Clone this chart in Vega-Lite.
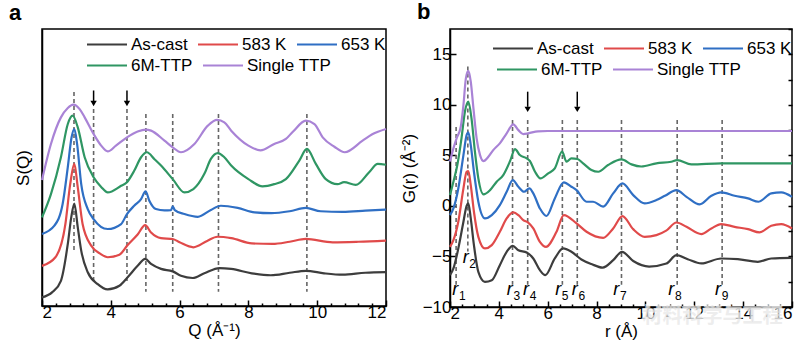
{
  "$schema": "https://vega.github.io/schema/vega-lite/v6.json",
  "padding": {"left": 8, "top": 0, "right": 10, "bottom": 0},
  "spacing": 7,
  "config": {
    "font": "Liberation Sans",
    "view": {"stroke": "black", "strokeWidth": 1.5},
    "axis": {"grid": false, "domainColor": "black", "domainWidth": 1.5, "tickColor": "black", "tickWidth": 1.5, "labelFontSize": 17, "labelColor": "black", "titleFontSize": 17, "titleFontWeight": "normal", "titleColor": "black", "labelFont": "Liberation Sans", "titleFont": "Liberation Sans"},
    "legend": {"orient": "none", "direction": "horizontal", "symbolType": "stroke", "symbolSize": 1600, "symbolStrokeWidth": 2, "clipHeight": 17, "labelFontSize": 17, "labelColor": "black", "labelOffset": 3, "columnPadding": 9, "title": null},
    "title": {"fontSize": 22, "fontWeight": "bold", "anchor": "start", "frame": "group", "dx": -33, "offset": 0, "color": "black"}
  },
  "resolve": {"scale": {"color": "independent", "stroke": "independent"}, "legend": {"color": "independent", "stroke": "independent"}},
  "datasets": {
    "sq": [
      {"c":"As-cast","Q":2.00,"S":0.31},{"c":"As-cast","Q":2.30,"S":0.50},{"c":"As-cast","Q":2.55,"S":0.91},{"c":"As-cast","Q":2.75,"S":2.24},{"c":"As-cast","Q":2.85,"S":3.20},{"c":"As-cast","Q":2.94,"S":3.70},{"c":"As-cast","Q":3.04,"S":2.84},{"c":"As-cast","Q":3.14,"S":2.00},{"c":"As-cast","Q":3.33,"S":1.22},{"c":"As-cast","Q":3.62,"S":0.79},{"c":"As-cast","Q":3.91,"S":0.60},{"c":"As-cast","Q":4.25,"S":0.73},{"c":"As-cast","Q":4.49,"S":1.04},{"c":"As-cast","Q":4.78,"S":1.45},{"c":"As-cast","Q":5.00,"S":1.70},{"c":"As-cast","Q":5.17,"S":1.52},{"c":"As-cast","Q":5.46,"S":1.34},{"c":"As-cast","Q":5.80,"S":1.25},{"c":"As-cast","Q":6.04,"S":1.09},{"c":"As-cast","Q":6.38,"S":1.01},{"c":"As-cast","Q":6.72,"S":1.18},{"c":"As-cast","Q":7.16,"S":1.37},{"c":"As-cast","Q":7.50,"S":1.34},{"c":"As-cast","Q":8.10,"S":1.18},{"c":"As-cast","Q":8.65,"S":1.11},{"c":"As-cast","Q":9.20,"S":1.20},{"c":"As-cast","Q":9.67,"S":1.27},{"c":"As-cast","Q":10.20,"S":1.18},{"c":"As-cast","Q":10.74,"S":1.13},{"c":"As-cast","Q":11.40,"S":1.20},{"c":"As-cast","Q":12.00,"S":1.22},
      {"c":"583 K","Q":2.00,"S":1.45},{"c":"583 K","Q":2.39,"S":1.76},{"c":"583 K","Q":2.68,"S":2.96},{"c":"583 K","Q":2.82,"S":4.40},{"c":"583 K","Q":2.94,"S":5.13},{"c":"583 K","Q":3.04,"S":4.28},{"c":"583 K","Q":3.18,"S":2.96},{"c":"583 K","Q":3.43,"S":2.18},{"c":"583 K","Q":3.70,"S":1.88},{"c":"583 K","Q":3.91,"S":1.76},{"c":"583 K","Q":4.25,"S":1.85},{"c":"583 K","Q":4.49,"S":2.20},{"c":"583 K","Q":4.78,"S":2.58},{"c":"583 K","Q":5.00,"S":2.92},{"c":"583 K","Q":5.17,"S":2.65},{"c":"583 K","Q":5.46,"S":2.45},{"c":"583 K","Q":5.80,"S":2.42},{"c":"583 K","Q":6.00,"S":2.30},{"c":"583 K","Q":6.40,"S":2.12},{"c":"583 K","Q":6.80,"S":2.35},{"c":"583 K","Q":7.10,"S":2.50},{"c":"583 K","Q":7.50,"S":2.45},{"c":"583 K","Q":8.10,"S":2.26},{"c":"583 K","Q":8.70,"S":2.24},{"c":"583 K","Q":9.20,"S":2.32},{"c":"583 K","Q":9.67,"S":2.42},{"c":"583 K","Q":10.45,"S":2.30},{"c":"583 K","Q":11.20,"S":2.32},{"c":"583 K","Q":12.00,"S":2.36},
      {"c":"653 K","Q":2.00,"S":2.60},{"c":"653 K","Q":2.36,"S":2.90},{"c":"653 K","Q":2.60,"S":3.68},{"c":"653 K","Q":2.75,"S":5.01},{"c":"653 K","Q":2.86,"S":6.09},{"c":"653 K","Q":2.94,"S":6.39},{"c":"653 K","Q":3.02,"S":5.85},{"c":"653 K","Q":3.14,"S":4.40},{"c":"653 K","Q":3.33,"S":3.50},{"c":"653 K","Q":3.50,"S":3.14},{"c":"653 K","Q":3.91,"S":2.78},{"c":"653 K","Q":4.30,"S":2.96},{"c":"653 K","Q":4.47,"S":3.32},{"c":"653 K","Q":4.68,"S":3.62},{"c":"653 K","Q":4.88,"S":3.86},{"c":"653 K","Q":5.01,"S":4.14},{"c":"653 K","Q":5.12,"S":3.80},{"c":"653 K","Q":5.31,"S":3.50},{"c":"653 K","Q":5.56,"S":3.45},{"c":"653 K","Q":5.75,"S":3.46},{"c":"653 K","Q":5.80,"S":3.60},{"c":"653 K","Q":5.86,"S":3.46},{"c":"653 K","Q":6.14,"S":3.32},{"c":"653 K","Q":6.53,"S":3.22},{"c":"653 K","Q":6.91,"S":3.47},{"c":"653 K","Q":7.20,"S":3.62},{"c":"653 K","Q":7.69,"S":3.54},{"c":"653 K","Q":8.18,"S":3.38},{"c":"653 K","Q":8.67,"S":3.35},{"c":"653 K","Q":9.20,"S":3.42},{"c":"653 K","Q":9.67,"S":3.54},{"c":"653 K","Q":10.10,"S":3.42},{"c":"653 K","Q":10.74,"S":3.40},{"c":"653 K","Q":11.40,"S":3.44},{"c":"653 K","Q":12.00,"S":3.48},
      {"c":"6M-TTP","Q":2.00,"S":3.20},{"c":"6M-TTP","Q":2.26,"S":4.04},{"c":"6M-TTP","Q":2.55,"S":5.37},{"c":"6M-TTP","Q":2.75,"S":6.57},{"c":"6M-TTP","Q":2.89,"S":6.87},{"c":"6M-TTP","Q":3.04,"S":6.45},{"c":"6M-TTP","Q":3.24,"S":5.37},{"c":"6M-TTP","Q":3.50,"S":4.65},{"c":"6M-TTP","Q":3.72,"S":4.30},{"c":"6M-TTP","Q":3.91,"S":4.10},{"c":"6M-TTP","Q":4.30,"S":4.34},{"c":"6M-TTP","Q":4.47,"S":4.47},{"c":"6M-TTP","Q":4.68,"S":4.88},{"c":"6M-TTP","Q":4.88,"S":5.37},{"c":"6M-TTP","Q":5.05,"S":5.55},{"c":"6M-TTP","Q":5.27,"S":5.30},{"c":"6M-TTP","Q":5.46,"S":5.07},{"c":"6M-TTP","Q":5.80,"S":4.58},{"c":"6M-TTP","Q":6.14,"S":4.10},{"c":"6M-TTP","Q":6.40,"S":4.22},{"c":"6M-TTP","Q":6.72,"S":4.77},{"c":"6M-TTP","Q":6.91,"S":5.31},{"c":"6M-TTP","Q":7.11,"S":5.52},{"c":"6M-TTP","Q":7.30,"S":5.37},{"c":"6M-TTP","Q":7.50,"S":5.07},{"c":"6M-TTP","Q":8.00,"S":4.58},{"c":"6M-TTP","Q":8.41,"S":4.32},{"c":"6M-TTP","Q":8.75,"S":4.40},{"c":"6M-TTP","Q":9.09,"S":4.58},{"c":"6M-TTP","Q":9.48,"S":5.25},{"c":"6M-TTP","Q":9.70,"S":5.67},{"c":"6M-TTP","Q":9.96,"S":5.13},{"c":"6M-TTP","Q":10.25,"S":4.58},{"c":"6M-TTP","Q":10.59,"S":4.40},{"c":"6M-TTP","Q":10.78,"S":4.47},{"c":"6M-TTP","Q":11.12,"S":4.37},{"c":"6M-TTP","Q":11.51,"S":4.83},{"c":"6M-TTP","Q":11.76,"S":5.13},{"c":"6M-TTP","Q":12.00,"S":5.10},
      {"c":"Single TTP","Q":2.00,"S":4.55},{"c":"Single TTP","Q":2.26,"S":5.85},{"c":"Single TTP","Q":2.55,"S":6.81},{"c":"Single TTP","Q":2.75,"S":7.15},{"c":"Single TTP","Q":2.91,"S":7.27},{"c":"Single TTP","Q":3.10,"S":7.10},{"c":"Single TTP","Q":3.24,"S":6.81},{"c":"Single TTP","Q":3.50,"S":6.21},{"c":"Single TTP","Q":3.72,"S":5.79},{"c":"Single TTP","Q":3.91,"S":5.58},{"c":"Single TTP","Q":4.15,"S":5.79},{"c":"Single TTP","Q":4.47,"S":6.09},{"c":"Single TTP","Q":4.78,"S":6.30},{"c":"Single TTP","Q":5.02,"S":6.37},{"c":"Single TTP","Q":5.17,"S":6.33},{"c":"Single TTP","Q":5.56,"S":5.97},{"c":"Single TTP","Q":5.80,"S":5.73},{"c":"Single TTP","Q":6.04,"S":5.55},{"c":"Single TTP","Q":6.43,"S":5.85},{"c":"Single TTP","Q":6.82,"S":6.51},{"c":"Single TTP","Q":7.09,"S":6.72},{"c":"Single TTP","Q":7.30,"S":6.63},{"c":"Single TTP","Q":7.50,"S":6.33},{"c":"Single TTP","Q":8.00,"S":5.79},{"c":"Single TTP","Q":8.35,"S":5.62},{"c":"Single TTP","Q":8.75,"S":5.85},{"c":"Single TTP","Q":9.09,"S":6.03},{"c":"Single TTP","Q":9.30,"S":6.30},{"c":"Single TTP","Q":9.67,"S":6.69},{"c":"Single TTP","Q":9.92,"S":6.57},{"c":"Single TTP","Q":10.16,"S":6.09},{"c":"Single TTP","Q":10.50,"S":5.75},{"c":"Single TTP","Q":10.80,"S":5.55},{"c":"Single TTP","Q":11.32,"S":5.97},{"c":"Single TTP","Q":11.60,"S":6.20},{"c":"Single TTP","Q":12.00,"S":6.39}
    ],
    "gr": [
      {"c":"As-cast","r":2.00,"G":-6.85},{"c":"As-cast","r":2.14,"G":-6.19},{"c":"As-cast","r":2.34,"G":-4.21},{"c":"As-cast","r":2.55,"G":-1.57},{"c":"As-cast","r":2.68,"G":0.01},{"c":"As-cast","r":2.75,"G":0.25},{"c":"As-cast","r":2.85,"G":-1.24},{"c":"As-cast","r":2.98,"G":-3.88},{"c":"As-cast","r":3.16,"G":-6.52},{"c":"As-cast","r":3.43,"G":-7.51},{"c":"As-cast","r":3.71,"G":-7.35},{"c":"As-cast","r":4.04,"G":-5.86},{"c":"As-cast","r":4.32,"G":-4.54},{"c":"As-cast","r":4.57,"G":-3.95},{"c":"As-cast","r":4.80,"G":-4.38},{"c":"As-cast","r":5.14,"G":-4.60},{"c":"As-cast","r":5.41,"G":-5.20},{"c":"As-cast","r":5.68,"G":-6.36},{"c":"As-cast","r":5.90,"G":-6.85},{"c":"As-cast","r":6.29,"G":-5.20},{"c":"As-cast","r":6.63,"G":-4.21},{"c":"As-cast","r":6.97,"G":-4.54},{"c":"As-cast","r":7.38,"G":-5.30},{"c":"As-cast","r":7.79,"G":-5.75},{"c":"As-cast","r":8.25,"G":-6.10},{"c":"As-cast","r":8.68,"G":-5.37},{"c":"As-cast","r":9.04,"G":-4.54},{"c":"As-cast","r":9.50,"G":-5.45},{"c":"As-cast","r":10.15,"G":-6.00},{"c":"As-cast","r":10.86,"G":-5.70},{"c":"As-cast","r":11.27,"G":-4.87},{"c":"As-cast","r":11.73,"G":-5.27},{"c":"As-cast","r":12.29,"G":-5.69},{"c":"As-cast","r":13.10,"G":-5.20},{"c":"As-cast","r":13.78,"G":-5.27},{"c":"As-cast","r":14.60,"G":-5.53},{"c":"As-cast","r":15.15,"G":-5.20},{"c":"As-cast","r":16.00,"G":-5.14},
      {"c":"583 K","r":2.00,"G":-4.05},{"c":"583 K","r":2.14,"G":-3.39},{"c":"583 K","r":2.34,"G":-1.57},{"c":"583 K","r":2.55,"G":1.73},{"c":"583 K","r":2.68,"G":3.38},{"c":"583 K","r":2.75,"G":3.45},{"c":"583 K","r":2.85,"G":2.06},{"c":"583 K","r":2.98,"G":-0.58},{"c":"583 K","r":3.16,"G":-3.06},{"c":"583 K","r":3.43,"G":-4.21},{"c":"583 K","r":3.71,"G":-3.88},{"c":"583 K","r":4.04,"G":-2.56},{"c":"583 K","r":4.32,"G":-1.24},{"c":"583 K","r":4.59,"G":-0.64},{"c":"583 K","r":4.80,"G":-0.91},{"c":"583 K","r":5.00,"G":-1.41},{"c":"583 K","r":5.20,"G":-1.65},{"c":"583 K","r":5.41,"G":-2.23},{"c":"583 K","r":5.68,"G":-3.55},{"c":"583 K","r":5.93,"G":-4.05},{"c":"583 K","r":6.36,"G":-2.56},{"c":"583 K","r":6.66,"G":-0.91},{"c":"583 K","r":7.18,"G":-1.73},{"c":"583 K","r":7.59,"G":-2.56},{"c":"583 K","r":8.27,"G":-3.16},{"c":"583 K","r":8.68,"G":-2.23},{"c":"583 K","r":9.06,"G":-1.01},{"c":"583 K","r":9.50,"G":-2.30},{"c":"583 K","r":9.97,"G":-3.06},{"c":"583 K","r":10.45,"G":-2.89},{"c":"583 K","r":10.85,"G":-2.45},{"c":"583 K","r":11.27,"G":-1.64},{"c":"583 K","r":11.68,"G":-2.07},{"c":"583 K","r":12.29,"G":-2.79},{"c":"583 K","r":12.70,"G":-2.23},{"c":"583 K","r":13.10,"G":-1.80},{"c":"583 K","r":13.65,"G":-2.07},{"c":"583 K","r":14.20,"G":-2.30},{"c":"583 K","r":14.67,"G":-2.62},{"c":"583 K","r":15.15,"G":-1.97},{"c":"583 K","r":15.56,"G":-1.80},{"c":"583 K","r":16.00,"G":-2.23},
      {"c":"653 K","r":2.00,"G":-0.91},{"c":"653 K","r":2.14,"G":-0.25},{"c":"653 K","r":2.34,"G":1.73},{"c":"653 K","r":2.55,"G":5.03},{"c":"653 K","r":2.68,"G":7.01},{"c":"653 K","r":2.75,"G":7.28},{"c":"653 K","r":2.85,"G":6.02},{"c":"653 K","r":2.98,"G":3.38},{"c":"653 K","r":3.16,"G":0.41},{"c":"653 K","r":3.43,"G":-1.24},{"c":"653 K","r":3.71,"G":-0.91},{"c":"653 K","r":4.04,"G":0.08},{"c":"653 K","r":4.32,"G":1.40},{"c":"653 K","r":4.57,"G":2.55},{"c":"653 K","r":4.80,"G":1.89},{"c":"653 K","r":5.03,"G":1.40},{"c":"653 K","r":5.25,"G":1.73},{"c":"653 K","r":5.41,"G":1.24},{"c":"653 K","r":5.68,"G":-0.25},{"c":"653 K","r":5.95,"G":-1.00},{"c":"653 K","r":6.29,"G":0.74},{"c":"653 K","r":6.66,"G":2.33},{"c":"653 K","r":6.97,"G":1.90},{"c":"653 K","r":7.18,"G":1.56},{"c":"653 K","r":7.59,"G":0.41},{"c":"653 K","r":7.86,"G":0.41},{"c":"653 K","r":8.27,"G":-0.08},{"c":"653 K","r":8.68,"G":1.24},{"c":"653 K","r":9.06,"G":2.22},{"c":"653 K","r":9.50,"G":1.07},{"c":"653 K","r":9.97,"G":0.25},{"c":"653 K","r":10.45,"G":0.58},{"c":"653 K","r":10.80,"G":1.00},{"c":"653 K","r":11.27,"G":1.56},{"c":"653 K","r":11.68,"G":0.90},{"c":"653 K","r":12.22,"G":0.15},{"c":"653 K","r":12.70,"G":1.00},{"c":"653 K","r":13.10,"G":1.34},{"c":"653 K","r":13.65,"G":1.00},{"c":"653 K","r":14.20,"G":0.74},{"c":"653 K","r":14.63,"G":0.41},{"c":"653 K","r":15.15,"G":1.24},{"c":"653 K","r":15.56,"G":1.34},{"c":"653 K","r":16.00,"G":0.90},
      {"c":"6M-TTP","r":2.00,"G":1.07},{"c":"6M-TTP","r":2.14,"G":2.39},{"c":"6M-TTP","r":2.30,"G":4.04},{"c":"6M-TTP","r":2.47,"G":6.68},{"c":"6M-TTP","r":2.61,"G":9.32},{"c":"6M-TTP","r":2.75,"G":10.31},{"c":"6M-TTP","r":2.88,"G":8.66},{"c":"6M-TTP","r":3.02,"G":5.36},{"c":"6M-TTP","r":3.16,"G":2.72},{"c":"6M-TTP","r":3.37,"G":1.14},{"c":"6M-TTP","r":3.64,"G":1.56},{"c":"6M-TTP","r":3.91,"G":2.39},{"c":"6M-TTP","r":4.18,"G":3.05},{"c":"6M-TTP","r":4.46,"G":4.44},{"c":"6M-TTP","r":4.66,"G":5.62},{"c":"6M-TTP","r":4.86,"G":5.03},{"c":"6M-TTP","r":5.14,"G":4.70},{"c":"6M-TTP","r":5.27,"G":4.44},{"c":"6M-TTP","r":5.48,"G":3.38},{"c":"6M-TTP","r":5.70,"G":2.72},{"c":"6M-TTP","r":6.02,"G":3.22},{"c":"6M-TTP","r":6.29,"G":3.71},{"c":"6M-TTP","r":6.59,"G":5.36},{"c":"6M-TTP","r":6.77,"G":4.37},{"c":"6M-TTP","r":6.97,"G":4.70},{"c":"6M-TTP","r":7.22,"G":4.64},{"c":"6M-TTP","r":7.45,"G":4.21},{"c":"6M-TTP","r":7.79,"G":3.55},{"c":"6M-TTP","r":8.07,"G":3.38},{"c":"6M-TTP","r":8.47,"G":4.04},{"c":"6M-TTP","r":9.02,"G":4.60},{"c":"6M-TTP","r":9.43,"G":4.11},{"c":"6M-TTP","r":9.83,"G":3.90},{"c":"6M-TTP","r":10.45,"G":4.21},{"c":"6M-TTP","r":11.06,"G":4.37},{"c":"6M-TTP","r":11.30,"G":4.53},{"c":"6M-TTP","r":11.88,"G":4.11},{"c":"6M-TTP","r":13.10,"G":4.21},{"c":"6M-TTP","r":16.00,"G":4.21},
      {"c":"Single TTP","r":2.00,"G":4.40},{"c":"Single TTP","r":2.14,"G":5.69},{"c":"Single TTP","r":2.27,"G":6.68},{"c":"Single TTP","r":2.44,"G":7.83},{"c":"Single TTP","r":2.55,"G":9.98},{"c":"Single TTP","r":2.65,"G":12.62},{"c":"Single TTP","r":2.75,"G":13.35},{"c":"Single TTP","r":2.85,"G":12.29},{"c":"Single TTP","r":2.96,"G":9.65},{"c":"Single TTP","r":3.09,"G":6.68},{"c":"Single TTP","r":3.23,"G":5.03},{"c":"Single TTP","r":3.37,"G":4.44},{"c":"Single TTP","r":3.57,"G":4.86},{"c":"Single TTP","r":3.77,"G":5.52},{"c":"Single TTP","r":4.04,"G":6.19},{"c":"Single TTP","r":4.32,"G":7.18},{"c":"Single TTP","r":4.59,"G":8.07},{"c":"Single TTP","r":4.80,"G":7.50},{"c":"Single TTP","r":5.00,"G":7.11},{"c":"Single TTP","r":5.20,"G":7.18},{"c":"Single TTP","r":5.60,"G":7.38},{"c":"Single TTP","r":6.00,"G":7.41},{"c":"Single TTP","r":8.00,"G":7.41},{"c":"Single TTP","r":12.00,"G":7.41},{"c":"Single TTP","r":16.00,"G":7.41}
    ],
    "vlA": [
      {"Q":2.93,"y1":7.73,"y2":1.99},{"Q":3.5,"y1":7.11,"y2":0.87},{"Q":4.47,"y1":7.11,"y2":0.87},{"Q":5.02,"y1":6.93,"y2":0.51},{"Q":5.8,"y1":6.93,"y2":0.51},{"Q":7.13,"y1":6.93,"y2":0.51},{"Q":9.7,"y1":6.93,"y2":0.51}
    ],
    "arA": [{"Q":3.5,"t":7.78,"b":7.35,"tip":7.31},{"Q":4.47,"t":7.78,"b":7.35,"tip":7.31}],
    "vlB": [
      {"r":2.25,"y1":7.8,"y2":-7.8},{"r":2.73,"y1":13.8,"y2":-4.5},{"r":4.56,"y1":8.5,"y2":-7.8},{"r":5.18,"y1":8.5,"y2":-7.8},{"r":6.6,"y1":8.5,"y2":-7.8},{"r":7.21,"y1":8.5,"y2":-7.8},{"r":9.02,"y1":8.5,"y2":-7.8},{"r":11.3,"y1":8.5,"y2":-7.8},{"r":13.14,"y1":8.5,"y2":-7.8}
    ],
    "arB": [{"r":5.18,"t":11.3,"b":9.8,"tip":9.55},{"r":7.21,"t":11.3,"b":9.8,"tip":9.55}],
    "lbB": [
      {"r":2.22,"g":-8.3,"n":"1"},{"r":2.64,"g":-5.2,"n":"2"},{"r":4.45,"g":-8.3,"n":"3"},{"r":5.11,"g":-8.3,"n":"4"},{"r":6.43,"g":-8.3,"n":"5"},{"r":7.11,"g":-8.3,"n":"6"},{"r":8.81,"g":-8.3,"n":"7"},{"r":11.06,"g":-8.3,"n":"8"},{"r":12.97,"g":-8.3,"n":"9"}
    ]
  },
  "hconcat": [
    {
      "width": 344,
      "height": 277,
      "title": {"text": "a"},
      "resolve": {"axis": {"x": "independent", "y": "independent"}},
      "layer": [
        {
          "data": {"name": "vlA"},
          "mark": {"type": "rule", "color": "#666666", "strokeDash": [4, 3], "strokeWidth": 1.6},
          "encoding": {
            "x": {"field": "Q", "type": "quantitative", "scale": {"domain": [2, 12], "nice": false},
                  "axis": {"orient": "bottom", "values": [2.4,2.8,3.2,3.6,4.4,4.8,5.2,5.6,6.4,6.8,7.2,7.6,8.4,8.8,9.2,9.6,10.4,10.8,11.2,11.6], "tickSize": -3, "labels": false, "domain": false, "title": null}},
            "y": {"field": "y1", "type": "quantitative", "scale": {"domain": [0, 10], "nice": false}, "axis": null},
            "y2": {"field": "y2"}
          }
        },
        {
          "data": {"name": "sq"},
          "transform": [{"filter": {"field": "c", "oneOf": ["As-cast","583 K","653 K"]}}],
          "mark": {"type": "line", "interpolate": "monotone", "strokeWidth": 2.2},
          "encoding": {
            "x": {"field": "Q", "type": "quantitative", "scale": {"domain": [2, 12], "nice": false},
                  "axis": {"orient": "bottom", "values": [2,4,6,8,10,12], "tickSize": -6, "labelPadding": 4, "title": "Q (Å⁻¹)", "titlePadding": 2}},
            "y": {"field": "S", "type": "quantitative", "scale": {"domain": [0, 10], "nice": false},
                  "axis": {"orient": "left", "labels": false, "ticks": false, "title": "S(Q)", "titlePadding": 10}},
            "color": {"field": "c", "type": "nominal",
                      "scale": {"domain": ["As-cast","583 K","653 K"], "range": ["#3d3d3d","#e04a4a","#2f6fc4"]},
                      "legend": {"legendX": 44, "legendY": 7}}
          }
        },
        {
          "data": {"name": "sq"},
          "transform": [{"filter": {"field": "c", "oneOf": ["6M-TTP","Single TTP"]}}],
          "mark": {"type": "line", "interpolate": "monotone", "strokeWidth": 2.2},
          "encoding": {
            "x": {"field": "Q", "type": "quantitative", "axis": null},
            "y": {"field": "S", "type": "quantitative", "axis": null},
            "stroke": {"field": "c", "type": "nominal",
                      "scale": {"domain": ["6M-TTP","Single TTP"], "range": ["#2f9663","#a983d6"]},
                      "legend": {"legendX": 44, "legendY": 28}}
          }
        },
        {
          "data": {"name": "arA"},
          "mark": {"type": "rule", "color": "black", "strokeWidth": 1.5},
          "encoding": {
            "x": {"field": "Q", "type": "quantitative", "axis": null},
            "y": {"field": "t", "type": "quantitative", "axis": null},
            "y2": {"field": "b"}
          }
        },
        {
          "data": {"name": "arA"},
          "mark": {"type": "point", "shape": "triangle-down", "filled": true, "color": "black", "size": 40, "opacity": 1},
          "encoding": {
            "x": {"field": "Q", "type": "quantitative", "axis": null},
            "y": {"field": "tip", "type": "quantitative", "axis": null}
          }
        }
      ]
    },
    {
      "width": 342,
      "height": 278,
      "title": {"text": "b"},
      "resolve": {"axis": {"x": "independent", "y": "independent"}},
      "layer": [
        {
          "data": {"name": "vlB"},
          "mark": {"type": "rule", "color": "#666666", "strokeDash": [4, 3], "strokeWidth": 1.6},
          "encoding": {
            "x": {"field": "r", "type": "quantitative", "scale": {"domain": [2, 16], "nice": false},
                  "axis": {"orient": "bottom", "values": [2.5,3,3.5,4.5,5,5.5,6.5,7,7.5,8.5,9,9.5,10.5,11,11.5,12.5,13,13.5,14.5,15,15.5], "tickSize": -3, "labels": false, "domain": false, "title": null}},
            "y": {"field": "y1", "type": "quantitative", "scale": {"domain": [-10, 17.5], "nice": false},
                  "axis": {"orient": "right", "values": [-10,-7.5,-5,-2.5,0,2.5,5,7.5,10,12.5,15,17.5], "tickSize": -4, "labels": false, "domain": false, "title": null}},
            "y2": {"field": "y2"}
          }
        },
        {
          "data": {"name": "gr"},
          "transform": [{"filter": {"field": "c", "oneOf": ["As-cast","583 K","653 K"]}}],
          "mark": {"type": "line", "interpolate": "monotone", "strokeWidth": 2.2},
          "encoding": {
            "x": {"field": "r", "type": "quantitative", "scale": {"domain": [2, 16], "nice": false},
                  "axis": {"orient": "bottom", "values": [2,4,6,8,10,12,14,16], "tickSize": -6, "labelPadding": 4, "title": "r (Å)", "titlePadding": 2}},
            "y": {"field": "G", "type": "quantitative", "scale": {"domain": [-10, 17.5], "nice": false},
                  "axis": {"orient": "left", "values": [-10,-5,0,5,10,15], "tickSize": -6, "labelPadding": 5, "title": "G(r) (Å⁻²)", "titlePadding": 4}},
            "color": {"field": "c", "type": "nominal",
                      "scale": {"domain": ["As-cast","583 K","653 K"], "range": ["#3d3d3d","#e04a4a","#2f6fc4"]},
                      "legend": {"legendX": 42, "legendY": 11}}
          }
        },
        {
          "data": {"name": "gr"},
          "transform": [{"filter": {"field": "c", "oneOf": ["6M-TTP","Single TTP"]}}],
          "mark": {"type": "line", "interpolate": "monotone", "strokeWidth": 2.2},
          "encoding": {
            "x": {"field": "r", "type": "quantitative", "axis": null},
            "y": {"field": "G", "type": "quantitative", "axis": null},
            "stroke": {"field": "c", "type": "nominal",
                      "scale": {"domain": ["6M-TTP","Single TTP"], "range": ["#2f9663","#a983d6"]},
                      "legend": {"legendX": 46, "legendY": 32}}
          }
        },
        {
          "data": {"name": "arB"},
          "mark": {"type": "rule", "color": "black", "strokeWidth": 1.5},
          "encoding": {
            "x": {"field": "r", "type": "quantitative", "axis": null},
            "y": {"field": "t", "type": "quantitative", "axis": null},
            "y2": {"field": "b"}
          }
        },
        {
          "data": {"name": "arB"},
          "mark": {"type": "point", "shape": "triangle-down", "filled": true, "color": "black", "size": 40, "opacity": 1},
          "encoding": {
            "x": {"field": "r", "type": "quantitative", "axis": null},
            "y": {"field": "tip", "type": "quantitative", "axis": null}
          }
        },
        {
          "data": {"name": "lbB"},
          "mark": {"type": "text", "text": "r", "fontStyle": "italic", "fontSize": 18, "color": "black", "align": "center", "baseline": "middle"},
          "encoding": {
            "x": {"field": "r", "type": "quantitative", "axis": null},
            "y": {"field": "g", "type": "quantitative", "axis": null}
          }
        },
        {
          "data": {"name": "lbB"},
          "mark": {"type": "text", "fontSize": 12, "color": "black", "align": "center", "baseline": "middle", "dx": 7, "dy": 6},
          "encoding": {
            "x": {"field": "r", "type": "quantitative", "axis": null},
            "y": {"field": "g", "type": "quantitative", "axis": null},
            "text": {"field": "n"}
          }
        },
        {
          "data": {"values": [{"r": 12.75, "g": -11.0, "t": "材料科学与工程"}]},
          "mark": {"type": "text", "font": "Noto Sans CJK SC", "fontSize": 20, "fontWeight": "bold", "color": "#a0a0a0", "stroke": "white", "strokeWidth": 2.5, "strokeOpacity": 0.8, "opacity": 0.85, "align": "center", "baseline": "middle"},
          "encoding": {
            "x": {"field": "r", "type": "quantitative", "axis": null},
            "y": {"field": "g", "type": "quantitative", "axis": null},
            "text": {"field": "t"}
          }
        }
      ]
    }
  ]
}
